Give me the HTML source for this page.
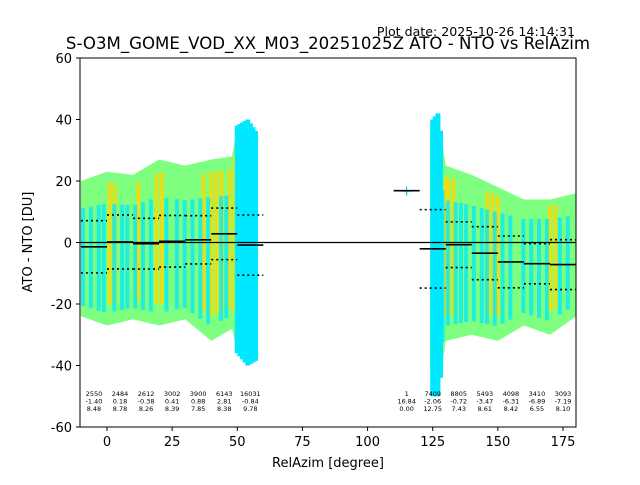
<!DOCTYPE html>
<html><head><meta charset="utf-8"><style>
body{margin:0;background:#fff}
svg text{font-family:"DejaVu Sans","Liberation Sans",sans-serif}
</style></head><body>
<svg id="chart" width="640" height="480" xmlns="http://www.w3.org/2000/svg">
<rect width="640" height="480" fill="#fff"/>
<text x="575" y="36" font-size="12.6" text-anchor="end">Plot date: 2025-10-26 14:14:31</text>
<text x="328" y="49" font-size="16.6" text-anchor="middle">S-O3M_GOME_VOD_XX_M03_20251025Z ATO - NTO vs RelAzim</text>
<defs><clipPath id="clip"><rect x="80" y="58" width="496" height="369"/></clipPath></defs>
<g id="clouds" clip-path="url(#clip)"></g>
<g id="marks" clip-path="url(#clip)"></g>
<g id="stats"></g>
<rect x="80" y="58" width="496" height="369" fill="none" stroke="#000" stroke-width="1"/>
<g id="axes"></g>
<text x="328" y="467" font-size="13" text-anchor="middle">RelAzim [degree]</text>
<text transform="translate(32,242) rotate(-90)" font-size="13" text-anchor="middle">ATO - NTO [DU]</text>
</svg>
<script>
const binCenters=[-5,5,15,25,35,45,55,115,125,135,145,155,165,175];
const binCounts=[2550,2484,2612,3002,3900,6143,16031,1,7409,8805,5493,4098,3410,3093];
const binMeans=[-1.40,0.18,-0.38,0.41,0.88,2.81,-0.84,16.84,-2.06,-0.72,-3.47,-6.31,-6.89,-7.19];
const binStds=[8.48,8.78,8.26,8.39,7.85,8.38,9.78,0.00,12.75,7.43,8.61,8.42,6.55,8.10];
const leftEnvX=[-10,0,10,20,30,40,48,50,54,58];
const leftEnvTop=[20,23,22,27,25,27,28,38,40,35];
const leftEnvBot=[-24,-27,-25,-27,-25,-32,-28,-36,-40,-38];
const rightEnvX=[124,125,127,130,140,150,160,170,180];
const rightEnvTop=[35,40,42,25,22,18,14,14,16];
const rightEnvBot=[-40,-50,-50,-32,-30,-32,-27,-30,-24];
const xTicks=[0,25,50,75,100,125,150,175];
const yTicks=[-60,-40,-20,0,20,40,60];
const X=v=>107+(v-0)*(563-107)/175;
const Y=v=>242.5-v*(427-58)/120;
const NS='http://www.w3.org/2000/svg';
function mk(t,a,p){const e=document.createElementNS(NS,t);for(const k in a)e.setAttribute(k,a[k]);p.appendChild(e);return e;}
const clouds=document.getElementById('clouds'),marks=document.getElementById('marks'),stats=document.getElementById('stats'),axes=document.getElementById('axes');
function env(xs,tops,bots,color,name){
  let pts=xs.map((x,i)=>X(x)+','+Y(tops[i])).concat(xs.slice().reverse().map((x,i)=>X(x)+','+Y(bots[bots.length-1-i])));
  const p=mk('polygon',{points:pts.join(' '),fill:color},clouds);
  
  
}
env(leftEnvX,leftEnvTop,leftEnvBot,'#7fff7f','left-cloud');
env(rightEnvX,rightEnvTop,rightEnvBot,'#7fff7f','right-cloud');
function envAt(d){
  const left=d<100;const xs=left?leftEnvX:rightEnvX,t=left?leftEnvTop:rightEnvTop,b=left?leftEnvBot:rightEnvBot;
  let j=0;while(j<xs.length-2&&xs[j+1]<d)j++;
  const f=Math.min(1,Math.max(0,(d-xs[j])/(xs[j+1]-xs[j])));
  return [t[j]+(t[j+1]-t[j])*f,b[j]+(b[j+1]-b[j])*f];
}
const yelX=[1,3,12,19,21,37,40,42,44,47,49,130,131,133,146,148,150,170,172];
yelX.forEach(d=>{
  const [t,b]=envAt(d);
  const r=mk('rect',{x:X(d)-2,y:Y(t*0.85),width:4,height:Y(b*0.75)-Y(t*0.85),fill:'#ffd800',opacity:0.8},clouds);
  
  
});
const cyanX=[-9,-6,-3,-1,3,6,8,11,14,17,23,27,30,33,36,39,44,46,50,51,52,53,54,55,56,57,125,126,127,128,129,131,134,136,138,141,144,146,149,152,155,160,163,166,169,174,177];
cyanX.forEach(d=>{
  const [t,b]=envAt(d);
  const big=(d>=50&&d<=57)||(d>=125&&d<=128);
  const r=mk('rect',{x:X(d)-2.5,y:Y(big?t:t*0.55),width:big?5:4,height:Y(big?b:b*0.85)-Y(big?t:t*0.55),fill:'#00e8ff',opacity:big?1:0.75},clouds);
  
  
});
const pt=mk('text',{x:X(115),y:Y(16.84)+5,'font-size':14,'text-anchor':'middle',fill:'#00c8e8'},clouds);
pt.textContent='+';


const z=mk('line',{x1:80,x2:576,y1:Y(0),y2:Y(0),stroke:'#000','stroke-width':1.2},marks);


binCenters.forEach((c,i)=>{
  const m=binMeans[i],s=binStds[i];
  const l=mk('line',{x1:X(c-5),x2:X(c+5),y1:Y(m),y2:Y(m),stroke:'#000','stroke-width':1.6},marks);
  
  
  if(s>0){[m+s,m-s].forEach(v=>{
    const d=mk('line',{x1:X(c-5),x2:X(c+5),y1:Y(v),y2:Y(v),stroke:'#000','stroke-width':1.6,'stroke-dasharray':'2,3'},marks);
    
    
  });}
  [binCounts[i],binMeans[i].toFixed(2),binStds[i].toFixed(2)].forEach((t,k)=>{
    const tx=mk('text',{x:X(c),y:396+k*7.5,'font-size':6.5,'text-anchor':'middle'},stats);
    tx.textContent=t;
    
    
  });
});
xTicks.forEach(t=>{
  const l=mk('line',{x1:X(t),x2:X(t),y1:427,y2:431,stroke:'#000'},axes);
  
  
  const tx=mk('text',{x:X(t),y:446,'font-size':13,'text-anchor':'middle'},axes);
  tx.textContent=t;
  
  
});
yTicks.forEach(t=>{
  const l=mk('line',{x1:76,x2:80,y1:Y(t),y2:Y(t),stroke:'#000'},axes);
  
  
  const tx=mk('text',{x:72,y:Y(t)+5,'font-size':13,'text-anchor':'end'},axes);
  tx.textContent=t;
  
  
});
</script>
</body></html>
